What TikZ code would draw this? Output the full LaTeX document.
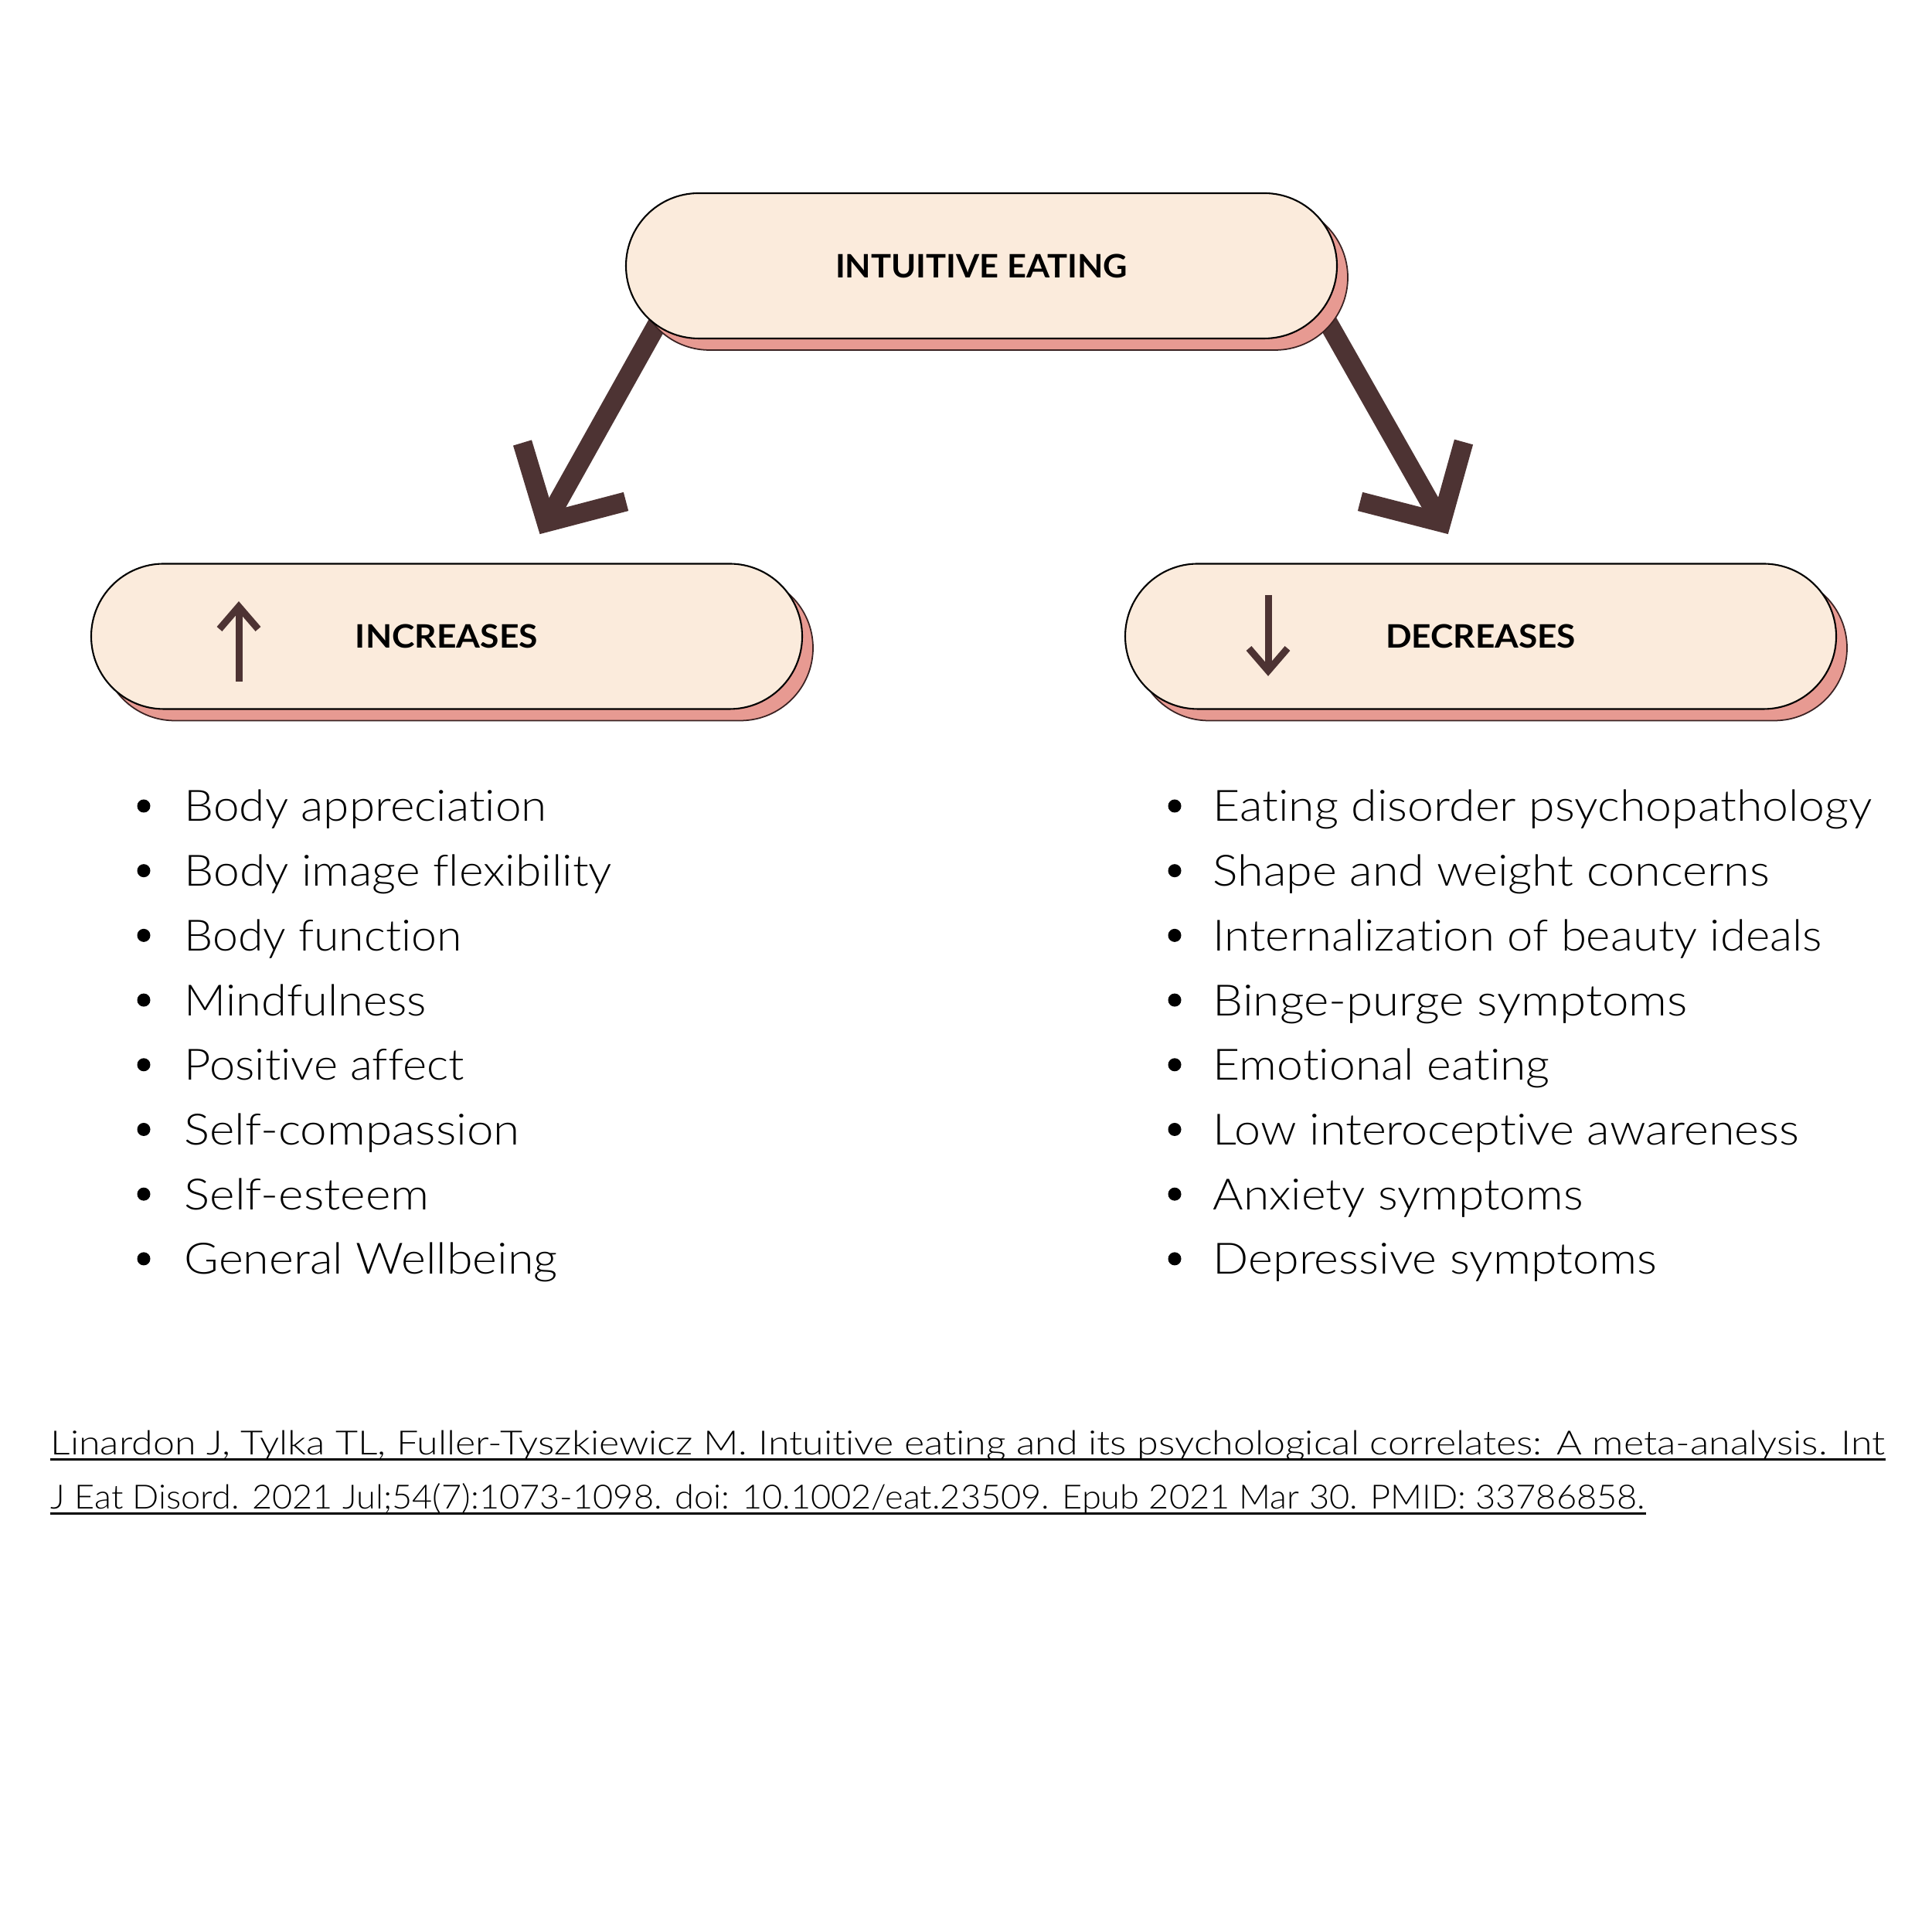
\documentclass[tikz,border=0pt]{standalone}
\usepackage{fontspec}
\usepackage{graphicx}
\setmainfont{Lato Light}[RawFeature={-liga;-clig;-dlig;-calt}]
\newfontfamily\headfont{Lato}
\definecolor{peach}{HTML}{FBEBDC}
\definecolor{pinkc}{HTML}{E79A92}
\definecolor{brownc}{HTML}{4D3333}
\definecolor{darkline}{HTML}{3A2222}
\newcommand\fitto[2]{\resizebox{#1}{\height}{#2}}
\begin{document}
\begin{tikzpicture}[
  pillbase/.style={rounded corners=0.94cm, minimum width=9.2cm, minimum height=1.88cm, inner sep=0pt},
  pill/.style={pillbase, draw=black, line width=0.6pt, fill=peach, font=\headfont\fontsize{11.9}{14}\selectfont\bfseries},
  pillshadow/.style={pillbase, draw=darkline, line width=0.5pt, fill=pinkc},
  bigarrow/.style={draw=brownc, line width=0.25cm, line cap=butt, line join=miter},
  smallarrow/.style={draw=brownc, line width=0.09cm, line cap=butt, line join=miter},
  item/.style={anchor=base west, inner sep=0pt, font=\fontsize{15.9}{19}\selectfont},
  citeline/.style={anchor=base west, inner sep=0pt, font=\fontsize{12.3}{15}\selectfont},
  dot/.style={fill=black}
]
\useasboundingbox (0,0) rectangle (25,25);
\fill[white] (0,0) rectangle (25,25);

% big arrows (drawn first, tucked under the top pill)
\coordinate (ls) at (8.68,21.12);
\coordinate (lt) at (7.07,18.24);
\coordinate (la) at (6.76,19.27);
\coordinate (lb) at (8.10,18.51);
\coordinate (rs) at (17.00,21.15);
\coordinate (rt) at (18.65,18.24);
\coordinate (ra) at (17.60,18.51);
\coordinate (rb) at (18.94,19.28);
\draw[bigarrow] (ls) -- (lt);
\draw[bigarrow] (la) -- (lt) -- (lb);
\draw[bigarrow] (rs) -- (rt);
\draw[bigarrow] (ra) -- (rt) -- (rb);

% pills
\node[pillshadow] (tops) at (12.84,21.41) {};
\node[pill] (top) at (12.70,21.56) {\fitto{3.78cm}{INTUITIVE EATING}};
\node[pillshadow] (incs) at (5.92,16.615) {};
\node[pill] (inc) at (5.78,16.765) {\fitto{2.36cm}{INCREASES}};
\node[pillshadow] (decs) at (19.30,16.615) {};
\node[pill] (dec) at (19.16,16.765) {\fitto{2.46cm}{DECREASES}};

% small arrows inside pills
\coordinate (ub) at (3.09,16.18);
\coordinate (ut) at (3.09,17.15);
\draw[smallarrow] (ub) -- (ut);
\draw[smallarrow] (2.84,16.86) -- (ut) -- (3.34,16.86);
\coordinate (dtop) at (16.41,17.30);
\coordinate (dt) at (16.41,16.32);
\draw[smallarrow] (dtop) -- (dt);
\draw[smallarrow] (16.16,16.61) -- (dt) -- (16.66,16.61);

% left list
\foreach \t/\w [count=\i] in {Body appreciation/4.69, Body image flexibility/5.53, Body function/3.59, Mindfulness/3.13, Positive affect/3.62, Self-compassion/4.34, Self-esteem/3.17, General Wellbeing/4.83}{
  \pgfmathsetmacro\yy{14.37-0.837*(\i-1)}
  \node[item] (L\i) at (2.38,\yy) {\fitto{\w cm}{\t}};
  \fill[dot] (1.86,\yy+0.20) circle (0.085);
}
% right list
\foreach \t/\w [count=\i] in {Eating disorder psychopathology/8.53, Shape and weight concerns/7.20, Internalization of beauty ideals/7.88, Binge-purge symptoms/6.14, Emotional eating/4.36, Low interoceptive awareness/7.58, Anxiety symptoms/4.79, Depressive symptoms/5.74}{
  \pgfmathsetmacro\yy{14.37-0.837*(\i-1)}
  \node[item] (R\i) at (15.69,\yy) {\fitto{\w cm}{\t}};
  \fill[dot] (15.20,\yy+0.20) circle (0.085);
}

% citation
\node[citeline] (c1) at (0.65,6.17) {\fitto{23.73cm}{Linardon J, Tylka TL, Fuller-Tyszkiewicz M. Intuitive eating and its psychological correlates: A meta-analysis. Int}};
\node[citeline] (c2) at (0.65,5.47) {\fitto{20.63cm}{J Eat Disord. 2021 Jul;54(7):1073-1098. doi: 10.1002/eat.23509. Epub 2021 Mar 30. PMID: 33786858.}};
\draw[line width=0.03cm] ([yshift=-0.06cm]c1.base west) -- ([yshift=-0.06cm]c1.base east);
\draw[line width=0.03cm] ([yshift=-0.06cm]c2.base west) -- ([yshift=-0.06cm]c2.base east);
\end{tikzpicture}
\end{document}
